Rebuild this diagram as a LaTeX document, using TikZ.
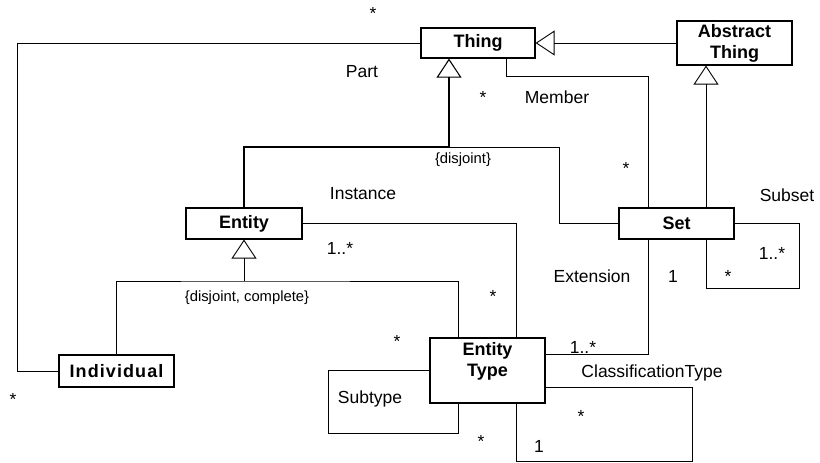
\documentclass[tikz,border=0pt]{standalone}
\usepackage{fontspec}
\setmainfont{Liberation Sans}
\usetikzlibrary{arrows.meta}
\begin{document}
\begin{tikzpicture}[x=1pt,y=-1pt,
  box/.style={draw, line width=1.2pt, inner sep=0pt, align=center,
    font=\fontsize{18}{21}\selectfont\bfseries},
  boxtext/.style={inner sep=0pt, align=center, font=\fontsize{18}{21}\selectfont\bfseries},
  lbl/.style={inner sep=0pt, font=\fontsize{17.5}{20}\selectfont},
  cons/.style={inner sep=0pt, font=\fontsize{14.8}{17}\selectfont},
  mult/.style={lbl, yshift=-3.5pt},
  conn/.style={line width=0.9pt, line join=miter},
  heavy/.style={line width=1.7pt, line join=miter},
  gen/.style={conn, -{Triangle[open, length=19pt, width=25pt, line width=0.9pt]}},
  genheavy/.style={heavy, -{Triangle[open, length=19pt, width=25pt, line width=1.1pt]}}
]
\useasboundingbox (0,0) rectangle (820,463);
\fill[white] (0,0) rectangle (820,463);

% classes
\node[box, minimum width=114pt, minimum height=30pt] (thing) at (478,43) {Thing};
\node[box, minimum width=115pt, minimum height=44pt] (abs) at (734.5,43) {Abstract\\Thing};
\node[box, minimum width=115pt, minimum height=31pt] (set) at (676.5,223.5) {Set};
\node[box, minimum width=116pt, minimum height=31pt] (entity) at (244,223.5) {Entity};
\node[box, minimum width=115pt, minimum height=32pt] (indiv) at (116.5,371) {\addfontfeature{LetterSpace=6}Individual};
\node[box, minimum width=115pt, minimum height=65pt] (etype) at (487.5,370.5) {};
\node[boxtext] (etypetext) at (487.5,361.5) {Entity\\Type};

% generalization points
\coordinate (tg) at (449,147);
\coordinate (eg) at (244,281);

% Thing <- Entity, Set
\draw[heavy] (entity.north) |- (tg);
\draw[genheavy] (tg) -- (tg |- thing.south);
\draw[conn] (tg) -- (559,147) -- (559,223.5) -- (set.west);

% Abstract Thing -> Thing
\draw[gen] (abs.west) -- (thing.east);
% Set -> Abstract Thing
\draw[gen] ([xshift=29.5pt]set.north) -- ([xshift=-28.5pt]abs.south);

% Entity <- Individual, Entity Type
\draw[gen] (eg) -- (entity.south);
\draw[conn] (indiv.north) |- (eg) -| ([xshift=-29.5pt]etype.north);

% Part
\draw[conn] (thing.west) -- (17,43) |- (indiv.west);
% Member
\draw[conn] ([xshift=28pt]thing.south) -- ++(0,18) -| ([xshift=-28.5pt]set.north);
% Subset
\draw[conn] (set.east) -- ++(65,0) -- ++(0,65) -| ([xshift=29.5pt]set.south);
% Extension
\draw[conn] ([xshift=-28.5pt]set.south) |- ([yshift=16.5pt]etype.east);
% Instance
\draw[conn] (entity.east) -| ([xshift=28.5pt]etype.north);
% Subtype
\draw[conn] (etype.west) -- ++(-101,0) -- ++(0,63) -| ([xshift=-29.5pt]etype.south);
% ClassificationType
\draw[conn] ([yshift=-16.5pt]etype.east) -- ++(147,0) -- ++(0,74) -| ([xshift=28.5pt]etype.south);

% labels
\node[mult] (m1) at (373,10) {*};
\node[lbl] (l1) at (362,72) {Part};
\node[mult] (m2) at (483,94) {*};
\node[lbl] (l2) at (557,97) {Member};
\node[cons] (c1) at (463,160) {\{disjoint\}};
\node[mult] (m3) at (626,165) {*};
\node[lbl] (l3) at (787,195) {Subset};
\node[lbl] (l4) at (363,194) {Instance};
\node[lbl] (m4) at (340,248) {1..*};
\node[lbl] (m5) at (772,253) {1..*};
\node[mult] (m6) at (728,273) {*};
\node[lbl] (l5) at (592,276) {Extension};
\node[lbl] (m7) at (673,276) {1};
\node[cons] (c2) at (247,298) {\{disjoint, complete\}};
\node[mult] (m8) at (493,293) {*};
\node[mult] (m9) at (397,338) {*};
\node[lbl] (m10) at (583,347) {1..*};
\node[lbl] (l6) at (652,373) {ClassificationType};
\node[mult] (m11) at (13,396) {*};
\node[lbl] (l7) at (370,399) {Subtype};
\node[mult] (m12) at (581,413) {*};
\node[mult] (m13) at (481,438) {*};
\node[lbl] (m14) at (539,446) {1};
\end{tikzpicture}
\end{document}
